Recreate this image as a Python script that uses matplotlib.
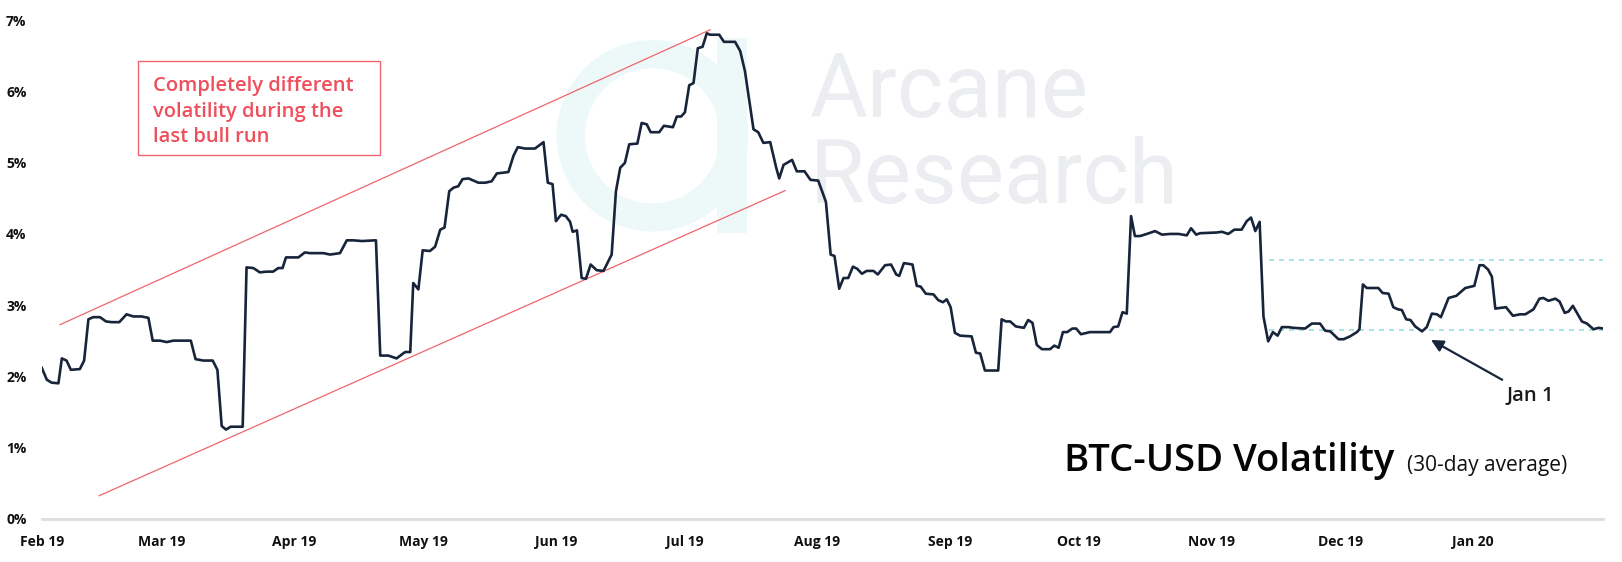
#!/usr/bin/env python3
"""BTC-USD 30-day volatility, Feb 2019 - Jan 2020."""

import pandas as pd
import matplotlib
matplotlib.use("Agg")
import matplotlib.pyplot as plt
from matplotlib.patches import Rectangle, Wedge

W, H = 1622, 562

START = pd.Timestamp("2019-02-01")

# day offset from START, volatility in %
days = [
    0, 1.2, 2.3, 3.9, 4.7, 5.8, 6.8, 8.9, 9.9, 10.9, 12.0, 13.6, 15.0, 16.3, 18.1,
    19.8, 21.4, 23.3, 24.9, 25.9, 27.6, 29.2, 30.7, 34.8, 35.9, 37.7, 39.9, 41.0,
    42.0, 43.0, 44.1, 46.9, 47.8, 49.4, 50.9, 52.5, 54.0, 55.2, 56.2, 57.0, 59.9,
    61.4, 62.6, 65.7, 67.3, 69.6, 71.2, 72.7, 74.7, 78.0, 79.0, 80.9, 82.8, 84.8,
    86.0, 86.7, 87.9, 88.9, 90.6, 91.8, 93.0, 94.0, 95.1, 96.1, 97.2, 98.2, 99.6,
    101.9, 103.5, 105.0, 106.2, 108.9, 110.1, 111.1, 112.8, 115.1, 117.1, 118.1,
    119.2, 120.0, 121.2, 122.3, 123.3, 123.9, 124.9, 126.0, 127.0, 128.1, 129.5,
    131.1, 133.0, 134.0, 135.0, 136.1, 137.1, 139.0, 140.0, 141.2, 142.1, 144.1,
    145.2, 147.3, 148.2, 149.2, 150.1, 151.1, 152.1, 153.1, 154.2, 155.2, 156.0,
    158.1, 159.2, 161.8, 163.0, 164.1, 166.1, 167.2, 168.4, 170.0, 171.4, 172.1,
    173.1, 175.1, 176.2, 178.0, 179.4, 181.2, 183.0, 184.1, 185.0, 186.1, 187.1,
    188.2, 189.3, 190.3, 191.4, 192.5, 194.1, 195.1, 196.8, 198.2, 199.4, 200.1,
    201.2, 203.2, 204.2, 205.1, 206.3, 208.1, 209.2, 210.3, 211.2, 212.1, 213.1,
    214.3, 217.0, 218.0, 219.0, 220.1, 223.2, 224.0, 225.0, 226.0, 227.3, 229.2,
    230.2, 231.2, 232.2, 233.4, 235.3, 236.3, 237.3, 238.3, 239.3, 240.5, 241.4,
    242.5, 244.6, 249.3, 250.1, 251.2, 252.2, 253.2, 254.2, 255.1, 256.3, 257.9,
    259.8, 261.4, 263.3, 265.3, 267.2, 268.2, 269.4, 270.3, 274.2, 275.4, 276.9,
    278.3, 280.0, 281.2, 282.2, 283.2, 284.2, 285.1, 286.2, 287.3, 288.4, 289.4,
    290.9, 292.1, 294.8, 296.4, 298.3, 299.5, 300.7, 302.6, 303.8, 305.3, 306.9,
    307.5, 308.3, 309.2, 311.9, 312.9, 314.3, 315.4, 316.5, 317.4, 318.4, 319.4,
    320.5, 322.1, 323.2, 324.4, 325.6, 326.5, 328.3, 330.1, 332.2, 334.3, 335.5,
    336.4, 337.5, 338.4, 339.2, 340.3, 341.7, 343.3, 345.0, 346.2, 348.1, 349.5,
    350.4, 351.6, 353.2, 354.2, 355.4, 356.3, 357.3, 359.4, 360.6, 362.1, 363.3,
    364.4,
]
vol = [
    2.12, 1.95, 1.91, 1.90, 2.25, 2.22, 2.09, 2.10, 2.22, 2.80, 2.83, 2.83, 2.77, 2.76, 2.76,
    2.87, 2.84, 2.84, 2.82, 2.50, 2.50, 2.48, 2.50, 2.50, 2.24, 2.22, 2.22, 2.09,
    1.30, 1.25, 1.29, 1.29, 3.53, 3.52, 3.46, 3.47, 3.47, 3.52, 3.52, 3.67, 3.67,
    3.74, 3.73, 3.73, 3.71, 3.73, 3.91, 3.91, 3.90, 3.91, 2.29, 2.29, 2.25, 2.34,
    2.34, 3.31, 3.22, 3.77, 3.76, 3.82, 4.06, 4.09, 4.60, 4.65, 4.67, 4.77, 4.78,
    4.72, 4.72, 4.74, 4.85, 4.87, 5.10, 5.22, 5.20, 5.20, 5.29, 4.72,
    4.70, 4.18, 4.27, 4.25, 4.17, 4.03, 4.05, 3.38, 3.37, 3.57, 3.49,
    3.48, 3.71, 4.60, 4.93, 5.00, 5.26, 5.27, 5.56, 5.54, 5.43, 5.43,
    5.52, 5.50, 5.65, 5.65, 5.71, 6.09, 6.12, 6.61, 6.63, 6.82, 6.80,
    6.80, 6.70, 6.70, 6.57, 6.29, 5.47, 5.43, 5.28, 5.29, 4.93, 4.78,
    4.97, 5.04, 4.88, 4.88, 4.76, 4.75, 4.45, 3.71, 3.69, 3.23, 3.38,
    3.38, 3.54, 3.51, 3.44, 3.48, 3.48, 3.43, 3.56, 3.57, 3.43, 3.41,
    3.59, 3.57, 3.27, 3.26, 3.16, 3.15, 3.07, 3.04, 3.08, 2.97, 2.61,
    2.57, 2.56, 2.33, 2.32, 2.08, 2.08, 2.80, 2.77, 2.77, 2.70, 2.68,
    2.79, 2.75, 2.44, 2.38, 2.38, 2.43, 2.40, 2.62, 2.62, 2.67, 2.67,
    2.59, 2.62, 2.62, 2.69, 2.70, 2.90, 2.88, 4.25, 3.97, 3.97, 4.00,
    4.04, 3.99, 4.00, 4.00, 3.98, 4.08, 3.99, 4.01, 4.02, 4.03, 4.00,
    4.06, 4.06, 4.18, 4.23, 4.04, 4.17, 2.84, 2.49, 2.62, 2.57, 2.69,
    2.69, 2.68, 2.67, 2.74, 2.74, 2.64, 2.63, 2.52, 2.52, 2.56, 2.62,
    2.66, 3.29, 3.24, 3.24, 3.17, 3.16, 2.97, 2.94, 2.93, 2.80, 2.79,
    2.70, 2.63, 2.69, 2.88, 2.87, 2.83, 3.10, 3.13, 3.24, 3.27, 3.56,
    3.56, 3.50, 3.40, 2.95, 2.96, 2.97, 2.85, 2.87, 2.87, 2.94, 3.09,
    3.10, 3.06, 3.09, 3.05, 2.89, 2.91, 2.99, 2.77, 2.74, 2.66, 2.68,
    2.67,
]

# bull-run channel (day, value) endpoints
channel_top = [(4.3, 2.725), (156.0, 6.87)]
channel_bottom = [(13.4, 0.32), (173.5, 4.61)]
# recent range band
band_days = [286.5, 364.4]
band_levels = [3.64, 2.655]
# "Jan 1" arrow: tail and tip
arrow_tail = (340.8, 1.95)
arrow_tip = (324.2, 2.51)

yticks = list(range(0, 8))
month_starts = pd.date_range("2019-02-01", "2020-01-01", freq="MS")

NAVY = "#17243a"
RED = "#f0646d"
RED_TXT = "#ee4f5b"
TEAL = "#93e2df"

plt.rcParams["font.family"] = ["Open Sans", "DejaVu Sans"]

fig = plt.figure(figsize=(W / 100, H / 100), dpi=100)
ax = fig.add_axes([41.7 / W, (H - 518.5) / H, 1561.6 / W, 498.0 / H])
ax.patch.set_alpha(0)


def px(x, y):
    """pixel position (top-left origin) -> inches for dpi_scale_trans"""
    return x / 100, (H - y) / 100


tr = fig.dpi_scale_trans

# watermark: logo + name
fig.patches.append(Wedge(px(652.5, 135.8), 0.958, 0, 360, width=0.283,
                         facecolor="#edf9f9", edgecolor="none", transform=tr, zorder=-2))
fig.patches.append(Rectangle(px(716.7, 233), 0.30, 1.95, facecolor="#edf9f9",
                             edgecolor="none", transform=tr, zorder=-2))
for label, yy in [("Arcane", 117), ("Research", 203.3)]:
    fig.text(*px(810, yy), label, transform=tr, fontsize=64, family=["Roboto", "DejaVu Sans"],
             fontweight="normal", color="#ebedf0", va="baseline", ha="left", zorder=-1)

ax.plot(days, vol, color=NAVY, lw=1.9, solid_joinstyle="round", zorder=3)

for seg in (channel_top, channel_bottom):
    ax.plot([seg[0][0], seg[1][0]], [seg[0][1], seg[1][1]], color=RED, lw=0.9, zorder=2)
for lvl in band_levels:
    ax.plot(band_days, [lvl, lvl], color=TEAL, lw=1.2, ls=(0, (3, 3)), zorder=2)

ax.annotate("", xy=arrow_tip, xytext=arrow_tail,
            arrowprops=dict(arrowstyle="-|>", color=NAVY, lw=1.6, mutation_scale=18,
                            shrinkA=0, shrinkB=0))

ax.set_xlim(0, 364.4)
ax.set_ylim(0, 7)
ax.set_xticks([(m - START).days for m in month_starts])
ax.set_xticklabels([m.strftime("%b %y") for m in month_starts])
ax.set_yticks(yticks)
ax.set_yticklabels([f"{v}%" for v in yticks])
ax.tick_params(length=0, labelsize=10)
ax.tick_params(axis="x", pad=12)
ax.tick_params(axis="y", pad=11)
for lab in ax.get_xticklabels() + ax.get_yticklabels():
    lab.set_fontweight("bold")
    lab.set_color("#111111")
for side in ("top", "right", "left"):
    ax.spines[side].set_visible(False)
ax.spines["bottom"].set_color("#dedede")
ax.spines["bottom"].set_linewidth(2)

# annotation box
fig.patches.append(Rectangle(px(138.3, 155), 2.417, 0.943, facecolor="none",
                             edgecolor=RED, lw=1.0, transform=tr, zorder=4))
for line, yy in [("Completely different", 90.7), ("volatility during the", 116.5),
                 ("last bull run", 142)]:
    fig.text(*px(153.3, yy), line, transform=tr, fontsize=14.5, fontweight="semibold",
             color=RED_TXT, va="baseline", ha="left")

fig.text(*px(1506.7, 400.7), "Jan 1", transform=tr, fontsize=14.5, fontweight="semibold",
         color="#1a1a1a", va="baseline", ha="left")

fig.text(*px(1063.5, 471), "BTC-USD Volatility", transform=tr, fontsize=27.5,
         fontweight="semibold", color="#050505", va="baseline", ha="left")
fig.text(*px(1406.7, 471), "(30-day average)", transform=tr, fontsize=15,
         color="#111111", va="baseline", ha="left")

fig.savefig("out.png", dpi=100)
